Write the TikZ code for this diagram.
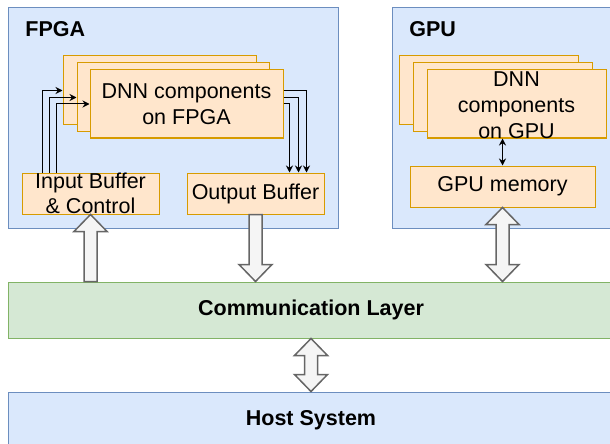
\documentclass[tikz,border=0pt]{standalone}
\usepackage{fontspec}
\setmainfont{Liberation Sans}
\usetikzlibrary{arrows.meta,calc,fit}

\definecolor{bluefill}{HTML}{DAE8FC}
\definecolor{blueline}{HTML}{6C8EBF}
\definecolor{greenfill}{HTML}{D5E8D4}
\definecolor{greenline}{HTML}{82B366}
\definecolor{orangefill}{HTML}{FFE6CC}
\definecolor{orangeline}{HTML}{D79B00}
\definecolor{arrowfill}{HTML}{F5F5F5}
\definecolor{arrowline}{HTML}{666666}

\tikzset{
  box/.style={draw, line width=0.5pt, inner sep=0pt},
  bluebox/.style={box, draw=blueline, fill=bluefill},
  greenbox/.style={box, draw=greenline, fill=greenfill},
  dnnbox/.style={box, draw=orangeline, fill=orangefill},
  plaintext/.style={inner sep=0pt, align=center, font=\fontsize{10.75}{12.75}\selectfont},
  boldtext/.style={plaintext, font=\fontsize{10.75}{12.75}\selectfont\bfseries},
  sig/.style={-{Stealth[length=3.5pt,width=3.5pt]}, line width=0.5pt},
  sigboth/.style={{Stealth[length=3.5pt,width=3.5pt]}-{Stealth[length=3.5pt,width=3.5pt]}, line width=0.5pt},
  fat/.style={draw=arrowline, fill=arrowfill, line width=0.75pt, line join=miter},
}

% hollow arrow: #1 tail, #2 tip
\newcommand{\fatsingle}[2]{%
  \draw[fat] (#2) -- ($(#2)!8.5pt!(#1)+(16.5,0)$) -- ($(#2)!8.5pt!(#1)+(6.5,0)$)
    -- ($(#1)+(6.5,0)$) -- ($(#1)+(-6.5,0)$) -- ($(#2)!8.5pt!(#1)+(-6.5,0)$)
    -- ($(#2)!8.5pt!(#1)+(-16.5,0)$) -- cycle;}
% hollow arrow with two heads
\newcommand{\fatdouble}[2]{%
  \draw[fat] (#1) -- ($(#1)!8.5pt!(#2)+(16.5,0)$) -- ($(#1)!8.5pt!(#2)+(6.5,0)$)
    -- ($(#2)!8.5pt!(#1)+(6.5,0)$) -- ($(#2)!8.5pt!(#1)+(16.5,0)$) -- (#2)
    -- ($(#2)!8.5pt!(#1)+(-16.5,0)$) -- ($(#2)!8.5pt!(#1)+(-6.5,0)$)
    -- ($(#1)!8.5pt!(#2)+(-6.5,0)$) -- ($(#1)!8.5pt!(#2)+(-16.5,0)$) -- cycle;}

\begin{document}
\begin{tikzpicture}[x=0.5pt, y=-0.5pt]
        \path[use as bounding box, clip] (0,0) rectangle (610,444);
        % outer blocks
        \node[bluebox, fit={(8,8) (338,228)}] (fpga) {};
        \node[bluebox, fit={(392,8) (620,228)}] (gpu) {};
        \node[greenbox, fit={(8,282) (614,338)},
            label={[boldtext]center:Communication Layer}] (comm) {};
        \node[bluebox, fit={(8,392) (614,448)},
            label={[boldtext]center:Host System}] (host) {};
        \node[boldtext, anchor=base west] (fpgalabel) at (25,37) {FPGA};
        \node[boldtext, anchor=base west] (gpulabel) at (409,37) {GPU};
        % FPGA side
        \node[dnnbox, fit={(63,56) (256,125)}] (back) {};
        \node[dnnbox, fit={(77,63) (269,132)}] (mid) {};
        \node[dnnbox, fit={(90,70) (283,138)},
            label={[plaintext]center:{DNN components\\on FPGA}}] (front) {};
        \node[dnnbox, fit={(22,173) (159,214)},
            label={[plaintext]center:{Input Buffer\\\& Control}}] (ib) {};
        \node[dnnbox, fit={(187,173) (324,214)},
            label={[plaintext]center:Output Buffer}] (ob) {};
        \foreach \b/\dx in {back/21, mid/28, front/35}
            \draw[sig] ($(ib.north west)+(\dx,0)$) |- (\b.west);
        \foreach \b/\dx in {back/18, mid/26, front/35}
            \draw[sig] (\b.east -| front.east) -| ($(ob.north east)+(-\dx,0)$);
        % GPU side
        \node[dnnbox, fit={(399,56) (578,125)}] (gback) {};
        \node[dnnbox, fit={(413,63) (592,132)}] (gmid) {};
        \node[dnnbox, fit={(427,70) (606,138)},
            label={[plaintext, yshift=-0.75pt, font=\fontsize{10.75}{13}\selectfont]center:{DNN\\components\\on GPU}}] (gfront) {};
        \node[dnnbox, fit={(410,166) (595,207)},
            label={[plaintext]center:GPU memory}] (gmem) {};
        \draw[sigboth] (gmem.north |- gfront.south) -- (gmem.north);
        % hollow arrows
        \fatsingle{ib.south |- comm.north}{ib.south}
        \fatsingle{ob.south}{ob.south |- comm.north}
        \fatdouble{gmem.south}{gmem.south |- comm.north}
        \fatdouble{comm.south}{host.north}
    \end{tikzpicture}
\end{document}
